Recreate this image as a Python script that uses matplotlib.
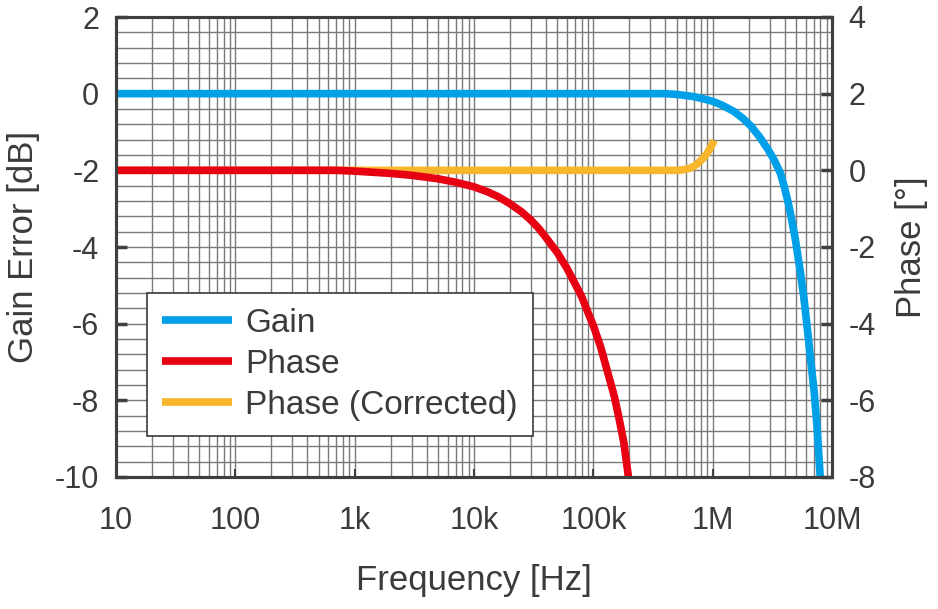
import numpy as np
import matplotlib.pyplot as plt
from matplotlib.ticker import MultipleLocator, LogLocator, FixedLocator

# data
gain_freq = [10, 100, 1e3, 1e4, 1e5, 4e5, 5e5, 6e5, 7e5, 8e5, 1e6, 1.2e6, 1.5e6,
             1.8e6, 2.1e6, 2.5e6, 2.9e6, 3.3e6, 3.7e6, 4.0e6, 4.3e6, 4.6e6,
             4.9e6, 5.4e6, 5.8e6, 6.2e6, 6.6e6, 7.1e6, 7.5e6, 8.0e6]
gain_db = [0, 0, 0, 0, 0, 0, -0.02, -0.05, -0.08, -0.12, -0.2, -0.3, -0.46,
           -0.65, -0.85, -1.15, -1.45, -1.75, -2.08, -2.45, -2.85, -3.3,
           -3.75, -4.6, -5.3, -6.1, -6.9, -7.8, -8.7, -10.1]

phase_freq = [10, 100, 700, 1e3, 2e3, 3e3, 5e3, 7e3, 10e3, 13e3, 16e3, 20e3,
              25e3, 30e3, 35e3, 40e3, 50e3, 60e3, 70e3, 80e3, 90e3, 100e3,
              115e3, 130e3, 150e3, 165e3, 180e3, 195e3, 200e3]
phase_deg = [0, 0, 0, -0.02, -0.08, -0.13, -0.22, -0.31, -0.43, -0.56, -0.69,
             -0.87, -1.08, -1.3, -1.52, -1.75, -2.15, -2.55, -2.95, -3.3, -3.7,
             -4.05, -4.6, -5.2, -5.9, -6.5, -7.1, -7.9, -8.2]

corr_freq = [10, 100, 1e3, 1e4, 1e5, 5e5, 5.5e5, 6e5, 6.5e5, 7e5, 7.5e5, 8e5,
             8.5e5, 9e5, 9.5e5, 1e6, 1.03e6]
corr_deg = [0, 0, 0, 0, 0, 0, 0.01, 0.03, 0.06, 0.11, 0.18, 0.26,
            0.35, 0.45, 0.57, 0.70, 0.78]

freq_ticks = [10, 100, 1e3, 1e4, 1e5, 1e6, 1e7]
freq_labels = ['10', '100', '1k', '10k', '100k', '1M', '10M']

c_gain = '#00a0e9'
c_phase = '#e60012'
c_corr = '#f8b62d'
txt = '#3c3a3a'
spine_c = '#3f3f3f'

plt.rcParams['font.family'] = ['Liberation Sans', 'DejaVu Sans']
plt.rcParams['axes.unicode_minus'] = False

fig = plt.figure(figsize=(9.38, 6.09), dpi=100)
ax1 = fig.add_axes([116/938, 1 - 477/609, 716/938, 460/609])
ax2 = ax1.twinx()

ax1.set_xscale('log')
ax1.set_xlim(10, 1e7)
ax1.set_ylim(-10, 2)
ax2.set_ylim(-8, 4)

lw = 5.5
l_gain, = ax1.plot(gain_freq, gain_db, color=c_gain, lw=lw, solid_capstyle='butt')
l_corr, = ax2.plot(corr_freq, corr_deg, color=c_corr, lw=lw, solid_capstyle='butt')
l_phase, = ax2.plot(phase_freq, phase_deg, color=c_phase, lw=lw, solid_capstyle='butt')

# grid
ax1.xaxis.set_major_locator(FixedLocator(freq_ticks))
ax1.xaxis.set_minor_locator(LogLocator(base=10, subs=np.arange(2, 10), numticks=20))
ax1.set_xticklabels(freq_labels)
ax1.yaxis.set_major_locator(MultipleLocator(2))
ax1.yaxis.set_minor_locator(MultipleLocator(0.4))
ax2.yaxis.set_major_locator(MultipleLocator(2))
ax1.grid(True, which='both', color='#7a7a7a', lw=1.0)
ax1.set_axisbelow(True)

ax1.tick_params(axis='x', which='major', direction='in', length=6, width=1.5,
                color=spine_c, labelsize=22, labelcolor=txt, pad=21)
ax1.tick_params(axis='x', which='minor', length=0)
ax1.tick_params(axis='y', which='major', direction='in', length=8, width=2.5,
                color=spine_c, labelsize=22, labelcolor=txt, pad=12)
ax1.tick_params(axis='y', which='minor', length=0)
ax2.tick_params(axis='y', which='major', direction='in', length=8, width=2.5,
                color=spine_c, labelsize=22, labelcolor=txt, pad=12)

for ax in (ax1, ax2):
    for s in ax.spines.values():
        s.set_color(spine_c)
        s.set_linewidth(2.2)

ax1.set_xlabel('Frequency [Hz]', fontsize=25, color=txt, labelpad=20)
ax1.set_ylabel('Gain Error [dB]', fontsize=25, color=txt, labelpad=11)
ax2.set_ylabel('Phase [°]', fontsize=25, color=txt, labelpad=14)

leg = ax2.legend([l_gain, l_phase, l_corr], ['Gain', 'Phase', 'Phase (Corrected)'],
                 loc='lower left', bbox_to_anchor=(0.043, 0.089), fontsize=24,
                 frameon=True, fancybox=False, framealpha=1, edgecolor='#3a3a3a',
                 handlelength=2.1, handletextpad=0.4, labelspacing=0.3,
                 borderpad=0.45, borderaxespad=0)
leg.get_frame().set_linewidth(1.2)
for t in leg.get_texts():
    t.set_color(txt)

fig.savefig('out.png', dpi=100)
